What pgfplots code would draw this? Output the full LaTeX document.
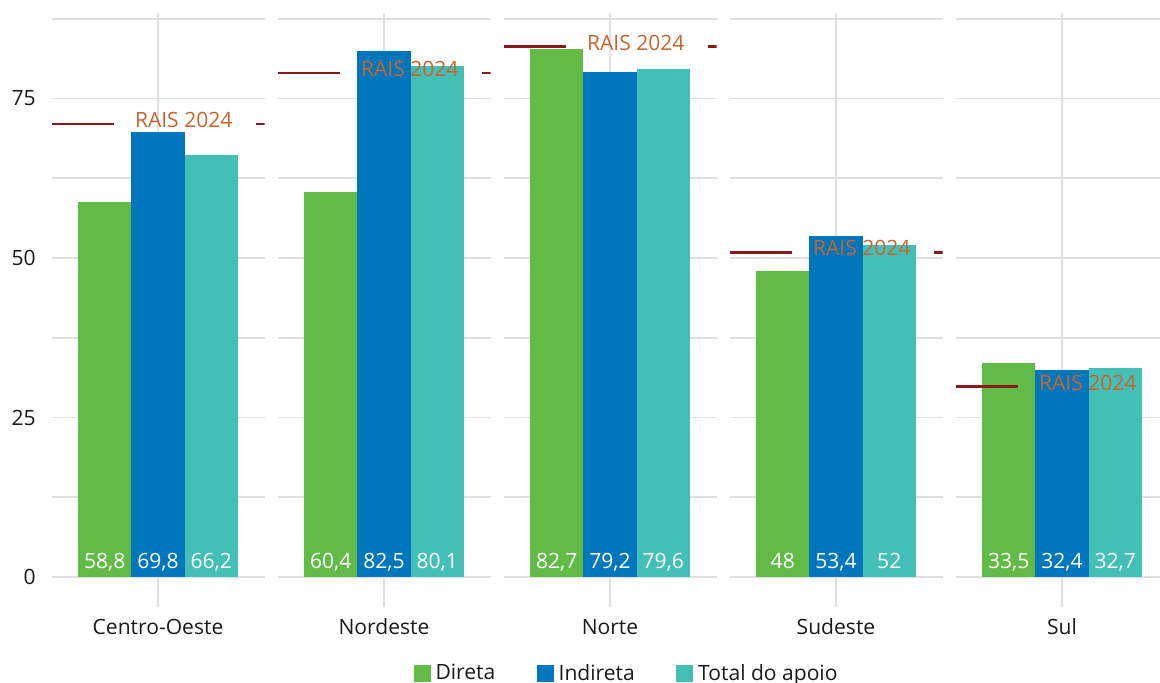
\documentclass[border=0pt]{standalone}
\usepackage{fontspec}
\setmainfont{Open Sans}
\usepackage{pgfplots}
\pgfplotsset{compat=1.18}

\definecolor{cDireta}{RGB}{98,187,70}
\definecolor{cIndireta}{RGB}{0,119,189}
\definecolor{cTotal}{RGB}{67,191,181}
\definecolor{raisline}{RGB}{139,26,26}
\definecolor{raistext}{RGB}{200,100,45}
\definecolor{gridgray}{RGB}{224,224,224}
\definecolor{labelblack}{RGB}{26,26,26}

\newcommand{\lab}{\fontsize{15.8}{18}\selectfont}
% vertical scale of every panel: 423pt for 88.4 units
\newcommand{\unitpt}{4.78507}

\tikzset{raislabel/.style={raistext, anchor=base, yshift=-2.5pt, font=\lab, inner sep=0pt}}

\pgfplotsset{
  panel/.style={
    scale only axis, width=159.75pt, height=423pt, anchor=south west,
    xmin=0.4, xmax=1.6, ymin=0, ymax=88.4,
    axis line style={draw=none}, tick style={draw=none}, major tick length=0pt,
    xtick={1}, ytick={0,25,50,75}, minor ytick={12.5,37.5,62.5,87.5},
    xmajorgrids, ymajorgrids, yminorgrids,
    grid style={line width=1.4pt, gridgray},
    minor grid style={line width=1.4pt, gridgray},
    tick label style={font=\lab, text=labelblack},
    xticklabel style={anchor=base, yshift=-42.75pt},
    yticklabel style={anchor=east, inner sep=0pt, xshift=-11.6pt},
    /pgf/number format/assume math mode=true,
    /pgf/number format/use comma,
    after end axis/.code={\draw[gridgray, line width=1.4pt] (axis cs:1,0) -- ++(0pt,-22.5pt);},
  },
  % one bar of a group; #1 colour, value label printed at the foot of the bar
  valbar/.style={ybar, bar width=0.3, draw=none, fill=#1,
    point meta=y, nodes near coords,
    visualization depends on={rawy \as \barval},
    every node near coord/.append style={anchor=base, text=white, font=\lab,
      yshift={6.5pt-\barval*\unitpt pt}},
    legend image code/.code={\fill[##1] (0pt,-6.375pt) rectangle (12.75pt,6.375pt);},
  },
  % 0.3 x-units = 39.9375pt
  left/.style={bar shift=-0.3, every node near coord/.append style={xshift=-39.9375pt}},
  mid/.style={bar shift=0},
  right/.style={bar shift=0.3, every node near coord/.append style={xshift=39.9375pt}},
  rais/.style={raisline, line width=2.2pt, forget plot},
}

\begin{document}
\begin{tikzpicture}
\useasboundingbox (0,0) rectangle (870pt,511.5pt);

% Centro-Oeste
\begin{axis}[panel, at={(38.625pt,78.75pt)}, xticklabels={Centro-Oeste},
  legend style={at={(axis description cs:2.695,-0.154)}, anchor=north,
    draw=none, fill=none, inner sep=0pt, legend columns=3, font=\lab,
    text=labelblack, nodes={inner sep=0pt},
    /tikz/every odd column/.style={column sep=3.75pt},
    /tikz/every even column/.style={column sep=31pt}}]
\addplot[valbar=cDireta, left] coordinates {(1,58.8)};
\addlegendentry{Direta}
\addplot[valbar=cIndireta, mid] coordinates {(1,69.8)};
\addlegendentry{Indireta}
\addplot[valbar=cTotal, right] coordinates {(1,66.2)};
\addlegendentry{Total do apoio}
\addplot[rais] coordinates {(0.4,71.0) (0.75,71.0)};
\addplot[rais] coordinates {(1.55,71.0) (1.6,71.0)};
\node[raislabel] at (axis cs:1.145,71.0) {RAIS 2024};
\end{axis}

% Nordeste
\begin{axis}[panel, at={(208.125pt,78.75pt)}, xticklabels={Nordeste}, yticklabels={}]
\addplot[valbar=cDireta, left] coordinates {(1,60.4)};
\addplot[valbar=cIndireta, mid] coordinates {(1,82.5)};
\addplot[valbar=cTotal, right] coordinates {(1,80.1)};
\addplot[rais] coordinates {(0.4,79.0) (0.75,79.0)};
\addplot[rais] coordinates {(1.55,79.0) (1.6,79.0)};
\node[raislabel] at (axis cs:1.145,79.0) {RAIS 2024};
\end{axis}

% Norte
\begin{axis}[panel, at={(377.625pt,78.75pt)}, xticklabels={Norte}, yticklabels={}]
\addplot[valbar=cDireta, left] coordinates {(1,82.7)};
\addplot[valbar=cIndireta, mid] coordinates {(1,79.2)};
\addplot[valbar=cTotal, right] coordinates {(1,79.6)};
\addplot[rais] coordinates {(0.4,83.1) (0.75,83.1)};
\addplot[rais] coordinates {(1.55,83.1) (1.6,83.1)};
\node[raislabel] at (axis cs:1.145,83.1) {RAIS 2024};
\end{axis}

% Sudeste
\begin{axis}[panel, at={(547.125pt,78.75pt)}, xticklabels={Sudeste}, yticklabels={}]
\addplot[valbar=cDireta, left] coordinates {(1,48)};
\addplot[valbar=cIndireta, mid] coordinates {(1,53.4)};
\addplot[valbar=cTotal, right] coordinates {(1,52)};
\addplot[rais] coordinates {(0.4,50.9) (0.75,50.9)};
\addplot[rais] coordinates {(1.55,50.9) (1.6,50.9)};
\node[raislabel] at (axis cs:1.145,50.9) {RAIS 2024};
\end{axis}

% Sul
\begin{axis}[panel, at={(716.625pt,78.75pt)}, xticklabels={Sul}, yticklabels={}]
\addplot[valbar=cDireta, left] coordinates {(1,33.5)};
\addplot[valbar=cIndireta, mid] coordinates {(1,32.4)};
\addplot[valbar=cTotal, right] coordinates {(1,32.7)};
\addplot[rais] coordinates {(0.4,29.8) (0.75,29.8)};
\addplot[rais] coordinates {(1.55,29.8) (1.6,29.8)};
\node[raislabel] at (axis cs:1.145,29.8) {RAIS 2024};
\end{axis}
\end{tikzpicture}
\end{document}
